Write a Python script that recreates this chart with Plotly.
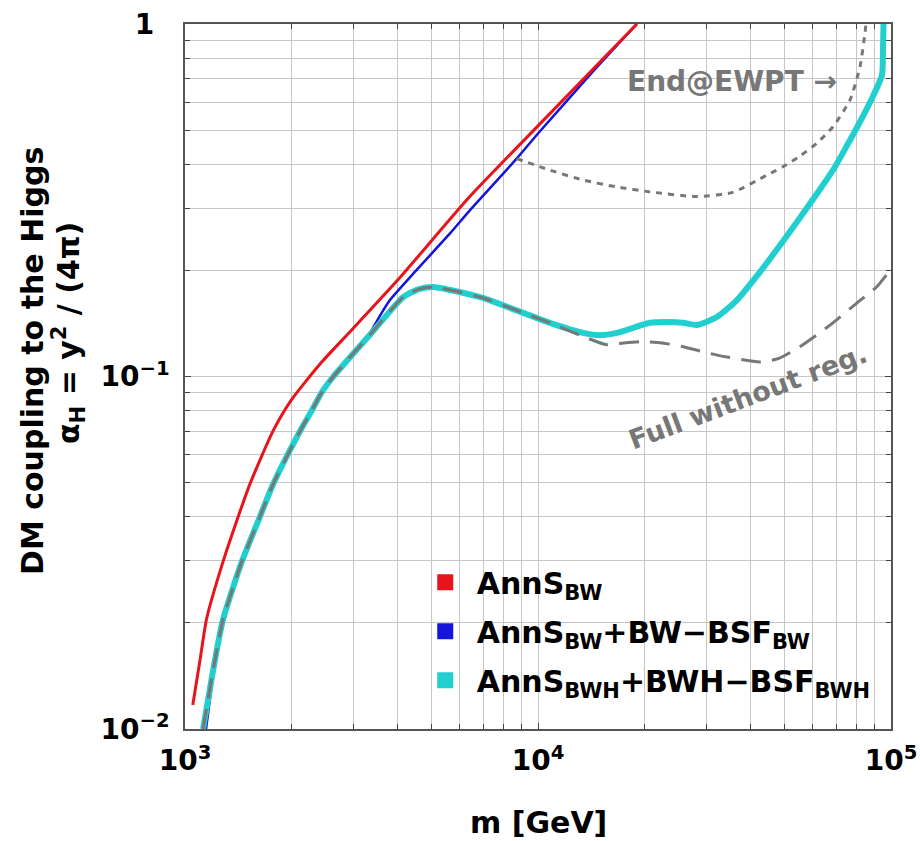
import plotly.graph_objects as go

# ---------------- data ----------------
red_m = [1052, 1103, 1152, 1281, 1413, 1528, 1775, 2000, 2450, 2966, 4010, 6410, 10000, 19060]
red_a = [0.0117, 0.0157, 0.0206, 0.0298, 0.0399, 0.0496, 0.070, 0.0857, 0.1104, 0.1355, 0.188, 0.324, 0.514, 1.0]

blue_m = [1147, 1220, 1290, 1455, 1635, 1785, 2122, 2290, 2441, 2636, 3000, 3343, 3600, 3812, 4500, 5640, 6410, 8700, 10000, 14030, 19060]
blue_a = [0.0100, 0.0157, 0.0204, 0.0298, 0.040, 0.0496, 0.070, 0.080, 0.090, 0.100, 0.116, 0.133, 0.151, 0.165, 0.199, 0.255, 0.296, 0.415, 0.489, 0.717, 1.0]

cyan_m = [1125, 1216, 1281, 1448, 1630, 1779, 2118, 2286, 2437, 2632, 3400, 4150, 4600, 5050, 5640, 6980, 8700,
          10810, 13410, 14970, 16750, 20750, 23170, 25770, 28170, 32150, 36620, 42560, 49430, 56330, 68490,
          75060, 81700, 88930, 94290, 94900, 95240]
cyan_a = [0.0100, 0.0157, 0.0204, 0.0298, 0.040, 0.0496, 0.070, 0.080, 0.090, 0.100, 0.134, 0.168, 0.177, 0.1795, 0.176, 0.167, 0.154,
          0.142, 0.133, 0.131, 0.133, 0.142, 0.1427, 0.142, 0.140, 0.1476, 0.1648, 0.198, 0.242, 0.290, 0.385,
          0.452, 0.528, 0.624, 0.7166, 0.844, 1.0]

full_m = [1125, 1216, 1281, 1448, 1630, 1779, 2118, 2286, 2437, 2632, 3400, 4150, 4600, 5050, 5640, 6980, 8700,
          10810, 13410, 15670, 17500, 19800, 22500, 25770, 32150, 42560, 48000, 55200, 68500, 80000, 91300, 99300]
full_a = [0.0100, 0.0157, 0.0204, 0.0298, 0.040, 0.0496, 0.070, 0.080, 0.090, 0.100, 0.134, 0.168, 0.177, 0.1795, 0.176, 0.167, 0.154,
          0.142, 0.130, 0.123, 0.1245, 0.1256, 0.1245, 0.1215, 0.115, 0.110, 0.1125, 0.1215, 0.142, 0.1615, 0.18, 0.2]

ewpt_m = [8700, 10810, 13400, 16700, 20750, 28200, 35620, 44550, 49430, 55230, 61590, 68490, 76530, 81700, 84380, 84930]
ewpt_a = [0.415, 0.385, 0.361, 0.345, 0.334, 0.324, 0.333, 0.3728, 0.3937, 0.4221, 0.4587, 0.5112, 0.6087, 0.7567, 0.943, 1.0]

legend_names = ["AnnS<sub>BW</sub>",
                "AnnS<sub>BW</sub>+BW\u2212BSF<sub>BW</sub>",
                "AnnS<sub>BWH</sub>+BWH\u2212BSF<sub>BWH</sub>"]

x_tickvals = [1e3, 1e4, 1e5]
x_ticktext = ["10<sup>3</sup>", "10<sup>4</sup>", "10<sup>5</sup>"]
y_tickvals = [1e-2, 1e-1, 1]
y_ticktext = ["10<sup>\u22122</sup>", "10<sup>\u22121</sup>", "1\u00a0\u2009"]
minor_x = [k * 10 ** e for e in (3, 4) for k in range(2, 10)]
minor_y = [k * 10.0 ** e for e in (-2, -1) for k in range(2, 10)]

# ---------------- styling ----------------
RED = "#e8141b"
BLUE = "#1414dc"
CYAN = "#22cfcf"
GRAY = "#777777"
FONT = "DejaVu Sans"
GRID = "#c6c6c6"

fig = go.Figure()

fig.add_trace(go.Scatter(x=blue_m, y=blue_a, mode="lines", showlegend=False,
                         line=dict(color=BLUE, width=2.5, shape="spline", smoothing=0.6)))
fig.add_trace(go.Scatter(x=red_m, y=red_a, mode="lines", showlegend=False,
                         line=dict(color=RED, width=3, shape="spline", smoothing=0.6)))
fig.add_trace(go.Scatter(x=cyan_m, y=cyan_a, mode="lines", showlegend=False,
                         line=dict(color=CYAN, width=6, shape="spline", smoothing=0.6)))
fig.add_trace(go.Scatter(x=full_m, y=full_a, mode="lines", showlegend=False,
                         line=dict(color=GRAY, width=3, dash="20px,11px", shape="spline", smoothing=0.6)))
fig.add_trace(go.Scatter(x=ewpt_m, y=ewpt_a, mode="lines", showlegend=False,
                         line=dict(color=GRAY, width=3, dash="6px,6px", shape="spline", smoothing=0.6)))

for name, col, grp in zip(legend_names, [RED, BLUE, CYAN], ["a", "b", "c"]):
    fig.add_trace(go.Scatter(x=[None], y=[None], mode="markers", name=name, legendgroup=grp,
                             marker=dict(symbol="square", size=24, color=col)))

axis_common = dict(
    type="log", automargin=False,
    showgrid=True, gridcolor=GRID, gridwidth=1,
    showline=True, linecolor="#555555", linewidth=1.5, mirror="allticks",
    ticks="inside", ticklen=6, tickcolor="#444444", tickwidth=1,
    tickfont=dict(family=FONT, size=28, color="black", weight="bold"),
    zeroline=False,
)

fig.update_xaxes(**axis_common, range=[3, 5], tickmode="array", tickvals=x_tickvals, ticktext=x_ticktext,
                 ticklabelstandoff=6,
                 minor=dict(tickmode="array", tickvals=minor_x, showgrid=True, gridcolor=GRID,
                            ticks="inside", ticklen=5, tickcolor="#444444"))
fig.update_yaxes(**axis_common, range=[-2, 0], tickmode="array", tickvals=y_tickvals, ticktext=y_ticktext,
                 ticklabelstandoff=8,
                 minor=dict(tickmode="array", tickvals=minor_y, showgrid=True, gridcolor=GRID,
                            ticks="inside", ticklen=5, tickcolor="#444444"))

fig.update_layout(
    template="none",
    width=920, height=841,
    margin=dict(l=185, r=29, t=24, b=112, autoexpand=False),
    paper_bgcolor="white", plot_bgcolor="white",
    font=dict(family=FONT, color="black"),
    legend=dict(x=0.3240, y=0.245, xanchor="left", yanchor="top", bgcolor="rgba(0,0,0,0)",
                font=dict(family=FONT, size=30, color="black", weight="bold"),
                tracegroupgap=7, itemsizing="trace", itemwidth=53),
    annotations=[
        dict(text="DM coupling to the Higgs", xref="paper", yref="paper", x=-0.2153, y=0.522,
             xanchor="center", yanchor="middle", textangle=-90, showarrow=False,
             font=dict(family=FONT, size=30, color="black", weight="bold")),
        dict(text="\u03b1<sub>H</sub> = y<sup>2</sup> / (4\u03c0)", xref="paper", yref="paper", x=-0.1657, y=0.5617,
             xanchor="center", yanchor="middle", textangle=-90, showarrow=False,
             font=dict(family=FONT, size=30, color="black", weight="bold")),
        dict(text="m [GeV]", xref="paper", yref="paper", x=0.5, y=-0.132,
             xanchor="center", yanchor="middle", showarrow=False,
             font=dict(family=FONT, size=30, color="black", weight="bold")),
        dict(text="End@EWPT \u2192", xref="x", yref="y", x=4.5496, y=-0.1645,
             xanchor="center", yanchor="middle", showarrow=False,
             font=dict(family=FONT, size=28, color=GRAY, weight="bold")),
        dict(text="Full without reg.", xref="x", yref="y", x=4.595, y=-1.058,
             xanchor="center", yanchor="middle", showarrow=False, textangle=-20.6,
             font=dict(family=FONT, size=27, color=GRAY, weight="bold")),
    ],
)

fig.write_html("out.html")
